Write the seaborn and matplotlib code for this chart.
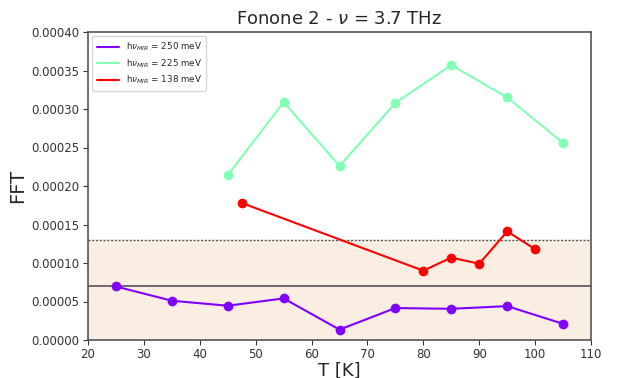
import numpy as np
import pandas as pd
import matplotlib
matplotlib.use("Agg")
import matplotlib.pyplot as plt
from matplotlib.lines import Line2D
import seaborn as sns

# Temperatures (K) and FFT amplitudes for each pump energy
T_250 = [25, 35, 45, 55, 65, 75, 85, 95, 105]
fft_250 = [6.95e-5, 5.1e-5, 4.45e-5, 5.4e-5, 1.35e-5, 4.15e-5, 4.05e-5, 4.4e-5, 2.1e-5]

T_225 = [45, 55, 65, 75, 85, 95, 105]
fft_225 = [2.14e-4, 3.09e-4, 2.26e-4, 3.08e-4, 3.57e-4, 3.15e-4, 2.56e-4]

T_138 = [47.5, 80, 85, 90, 95, 100]
fft_138 = [1.78e-4, 0.90e-4, 1.07e-4, 0.99e-4, 1.41e-4, 1.18e-4]

labels = [r"h$\nu_{MIR}$ = 250 meV", r"h$\nu_{MIR}$ = 225 meV", r"h$\nu_{MIR}$ = 138 meV"]
noise_level = 7e-5
noise_top = 1.3e-4

xticks = list(range(20, 111, 10))
yticks = [0.0, 0.00005, 0.00010, 0.00015, 0.00020, 0.00025, 0.00030, 0.00035, 0.00040]

sns.set_style("ticks")
plt.rcParams["font.family"] = ["DejaVu Sans"]

colors = plt.cm.rainbow(np.linspace(0, 1, 3))

df = pd.concat([
    pd.DataFrame({"T": T_250, "FFT": fft_250, "serie": labels[0]}),
    pd.DataFrame({"T": T_225, "FFT": fft_225, "serie": labels[1]}),
    pd.DataFrame({"T": T_138, "FFT": fft_138, "serie": labels[2]}),
])

fig = plt.figure(figsize=(6.18, 3.78), dpi=100)
ax = fig.add_axes([88 / 618, 1 - 340 / 378, (591 - 88) / 618, (340 - 32) / 378])

ax.axhspan(0, noise_top, color="#faeee3", zorder=0)
ax.axhline(noise_level, color="#555555", lw=1.2, zorder=1)
ax.axhline(noise_top, color="#555555", lw=1.0, ls=(0, (1.5, 1.2)), zorder=1)

for lab, col in zip(labels, colors):
    sub = df[df["serie"] == lab]
    sns.lineplot(data=sub, x="T", y="FFT", color=col, marker="o", markersize=7,
                 markeredgewidth=0, lw=1.5, sort=False, ax=ax, legend=False, zorder=3)

handles = [Line2D([0], [0], color=c, lw=1.5) for c in colors]
ax.legend(handles, labels, loc="upper left", fontsize=6.3, frameon=True,
          handlelength=2.5, borderpad=0.5, labelspacing=0.45)

ax.set_xlim(20, 110)
ax.set_ylim(0, 0.0004)
ax.set_xticks(xticks)
ax.set_yticks(yticks)
ax.set_yticklabels([f"{v:.5f}" for v in yticks])
ax.tick_params(labelsize=8.5, colors="#333333", length=3.5, pad=2.5)
for s in ax.spines.values():
    s.set_color("#555555")
    s.set_linewidth(1.2)

ax.set_title(r"Fonone 2 - $\nu$ = 3.7 THz", fontsize=13)
ax.set_xlabel("T [K]", fontsize=13, labelpad=0)
ax.set_ylabel("FFT", fontsize=14, labelpad=3)

fig.savefig("out.png", dpi=100)
